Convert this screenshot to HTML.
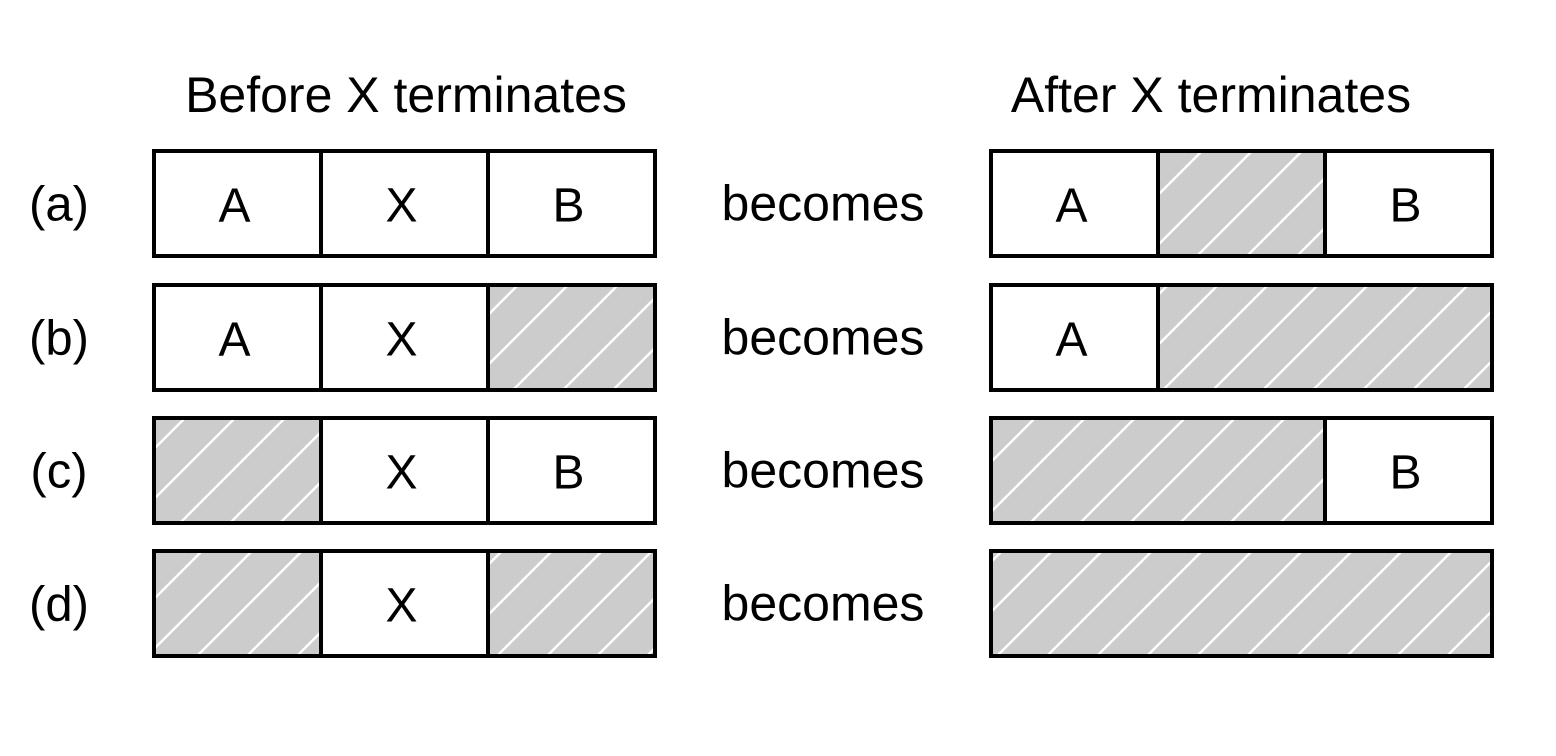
<!DOCTYPE html>
<html><head><meta charset="utf-8"><style>
html,body{margin:0;padding:0;background:#fff}
svg{display:block}
text{font-family:"Liberation Sans",Arial,sans-serif;fill:#000}
</style></head><body>
<svg width="1556" height="756" viewBox="0 0 1556 756">
<defs>
<pattern id="hatch" patternUnits="userSpaceOnUse" width="50" height="50" patternTransform="translate(0,3)">
<rect width="50" height="50" fill="#cccccc"/>
<path d="M-5,5 L5,-5 M0,50 L50,0 M45,55 L55,45" stroke="#fff" stroke-width="2.5"/>
</pattern>
</defs>
<text x="406" y="112" font-size="50" text-anchor="middle">Before X terminates</text>
<text x="1211" y="112" font-size="50" text-anchor="middle">After X terminates</text>
<g id="rows"></g>
</svg>
<script>
const rowLabels=["(a)","(b)","(c)","(d)"];
const beforeCells=[["A","X","B"],["A","X",null],[null,"X","B"],[null,"X",null]];
const afterCells=[[["A",1],[null,1],["B",1]],[["A",1],[null,2]],[[null,2],["B",1]],[[null,3]]];
const rowsY=[151,285,418,551];
const ns="http://www.w3.org/2000/svg";
const g=document.getElementById("rows");
function mk(t,a){const e=document.createElementNS(ns,t);for(const k in a)e.setAttribute(k,a[k]);return e;}
const cw=167,h=105;
rowLabels.forEach((lab,i)=>{
  const y=rowsY[i];
  const grp=mk("g",{});
  
  
  const t=mk("text",{x:59,y:y+h/2+17,"font-size":49,"text-anchor":"middle"});t.textContent=lab;
  
  
  grp.appendChild(t);
  beforeCells[i].forEach((c,j)=>{
    const x=154+j*cw;
    const r=mk("rect",{x:x,y:y,width:cw,height:h,fill:c?"#fff":"url(#hatch)",stroke:"#000","stroke-width":4});
    
    
    grp.appendChild(r);
    if(c){const tt=mk("text",{x:x+cw/2-3,y:y+h/2+18,"font-size":48,"text-anchor":"middle"});tt.textContent=c;
      
      
      grp.appendChild(tt);}
  });
  const b=mk("text",{x:823,y:y+h/2+17,"font-size":50,"text-anchor":"middle"});b.textContent="becomes";
  
  
  grp.appendChild(b);
  let x=991;
  afterCells[i].forEach(([c,span])=>{
    const w=cw*span;
    const r=mk("rect",{x:x,y:y,width:w,height:h,fill:c?"#fff":"url(#hatch)",stroke:"#000","stroke-width":4});
    
    
    grp.appendChild(r);
    if(c){const tt=mk("text",{x:x+w/2-3,y:y+h/2+18,"font-size":48,"text-anchor":"middle"});tt.textContent=c;
      
      
      grp.appendChild(tt);}
    x+=w;
  });
  g.appendChild(grp);
});
</script>
</body></html>
